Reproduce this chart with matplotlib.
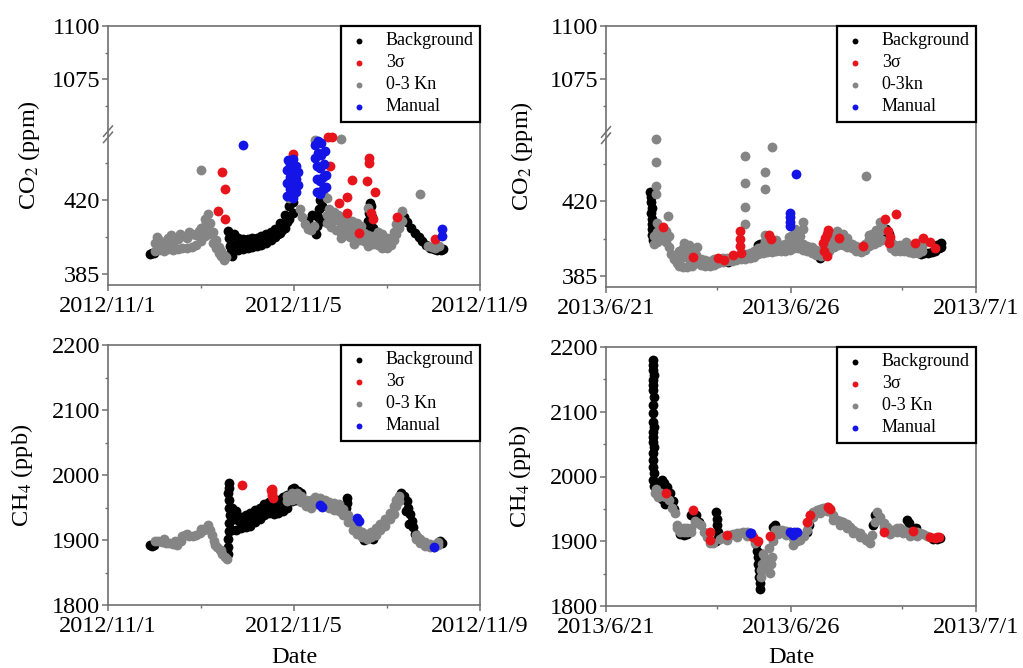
import numpy as np
import matplotlib
matplotlib.use("Agg")
import matplotlib.pyplot as plt

plt.rcParams["font.family"] = ["Liberation Serif", "DejaVu Serif"]
plt.rcParams["mathtext.fontset"] = "stix"

# ---------------- data (days since start date) ----------------
# top left: CO2, 2012/11/1 - 2012/11/9
tl_bg_x = [0.90, 0.95, 0.99,
           2.58, 2.60, 2.62, 2.64, 2.66,
           2.70, 2.80, 2.90, 3.00, 3.10, 3.20, 3.30, 3.40, 3.50, 3.60, 3.70, 3.80, 3.90, 3.98,
           2.70, 2.80, 2.90, 3.00, 3.10, 3.20, 3.30, 3.40, 3.50, 3.60, 3.70, 3.80, 3.90, 3.98,
           2.75, 2.85, 2.95, 3.05, 3.15, 3.25, 3.35, 3.45, 3.55, 3.65, 3.75, 3.85,
           4.30, 4.38,
           4.48, 4.50, 4.52, 4.54, 4.56, 4.58, 4.60, 4.62,
           5.56, 5.58, 5.60, 5.62, 5.64, 5.66, 5.68, 5.70, 5.72,
           6.36, 6.44, 6.52, 6.60, 6.68, 6.76, 6.84, 6.92, 7.00, 7.08, 7.16, 7.21]
tl_bg_y = [394.7, 395.0, 395.3,
           405.5, 402.0, 398.5, 395.5, 393.5,
           404.0, 402.0, 401.5, 401.5, 402.0, 402.0, 403.0, 404.0, 405.0, 406.5, 409.0, 413.0, 417.0, 419.0,
           397.0, 396.5, 397.0, 397.5, 398.0, 398.5, 399.0, 400.0, 401.0, 402.5, 404.5, 407.0, 411.0, 414.0,
           399.5, 399.0, 399.5, 399.5, 400.0, 400.5, 401.0, 402.0, 402.5, 404.0, 406.0, 409.5,
           410.0, 413.0,
           404.0, 408.0, 412.0, 416.0, 420.0, 421.0, 417.0, 410.0,
           402.0, 406.0, 410.0, 414.0, 418.5, 417.0, 412.0, 407.0, 402.0,
           412.0, 409.5, 407.0, 404.5, 402.5, 400.5, 399.0, 397.5, 396.8, 396.5, 396.3, 396.8]

tl_kn_x = [1.00, 1.10, 1.20, 1.30, 1.40, 1.50, 1.60, 1.70, 1.80, 1.90, 2.00, 2.08, 2.14,
           1.00, 1.10, 1.20, 1.30, 1.40, 1.50, 1.60, 1.70, 1.80, 1.90, 2.00, 2.08, 2.14,
           1.05, 1.35, 1.55, 1.75, 1.95, 2.10,
           2.20, 2.26, 2.32, 2.38, 2.44, 2.50, 2.20, 2.26, 2.32, 2.38, 2.44, 2.50, 2.54,
           3.90, 4.12, 4.18, 4.24, 4.30, 4.36, 4.42,
           4.45, 4.62, 4.70,
           4.70, 4.80, 4.90, 5.00, 5.10, 5.20, 5.30, 5.40, 5.50, 5.60, 5.70, 5.80, 5.90, 6.00,
           6.08, 6.14, 6.20, 6.26, 6.32,
           4.70, 4.80, 4.90, 5.00, 5.10, 5.20, 5.30, 5.40, 5.50, 5.60, 5.70, 5.80, 5.90, 6.00,
           6.08, 6.14, 6.20, 6.26, 6.32,
           4.75, 4.85, 4.95, 5.05, 5.15, 5.25, 5.35, 5.45, 5.80, 5.90, 6.00,
           5.00, 5.30, 5.60, 5.90,
           6.88, 6.96, 7.04, 7.12,
           2.00, 6.72, 5.00, 5.60]
tl_kn_y = [400.0, 401.0, 399.0, 402.0, 399.5, 401.5, 403.0, 402.0, 404.0, 403.5, 407.0, 411.0, 413.5,
           396.0, 396.5, 396.0, 397.0, 396.5, 397.0, 397.5, 397.5, 398.0, 399.0, 400.5, 403.0, 407.0,
           402.5, 403.5, 404.0, 405.0, 405.5, 409.0,
           409.0, 405.0, 401.0, 398.0, 396.0, 394.0, 404.0, 400.0, 397.5, 395.0, 393.5, 392.0, 393.0,
           421.0, 416.0, 412.0, 408.5, 406.5, 406.0, 408.0,
           448.5, 423.5, 421.0,
           413.0, 412.0, 410.5, 409.0, 408.0, 407.0, 406.0, 405.0, 404.5, 403.5, 403.0, 402.5, 401.5, 400.0,
           402.0, 405.0, 408.5, 412.0, 415.0,
           409.0, 407.5, 406.0, 404.5, 403.5, 402.5, 401.5, 401.0, 400.5, 399.5, 399.5, 399.0, 398.5, 397.5,
           399.0, 401.0, 404.0, 407.0, 410.0,
           416.0, 414.5, 413.0, 412.0, 411.0, 410.0, 409.0, 408.0, 405.0, 404.0, 402.0,
           402.0, 399.5, 398.5, 397.5,
           398.5, 398.0, 397.5, 398.5,
           434.0, 422.8, 448.9, 416.5]

tl_3s_x = [2.46, 2.51, 2.36, 2.51, 3.98, 4.78, 4.74, 4.82, 5.25, 5.15, 5.15,
           5.56, 5.62, 5.62, 5.74, 4.97, 6.21, 7.03, 5.66, 5.70, 5.40]
tl_3s_y = [433.1, 425.2, 414.7, 411.2, 441.8, 436.2, 449.6, 449.6, 429.5, 421.6, 413.7,
           429.0, 439.7, 437.3, 424.0, 418.4, 411.9, 401.5, 414.0, 411.0, 404.5]

tl_man_x = [3.86, 3.86, 3.86, 3.88, 3.92, 3.92, 3.92, 3.98, 3.98, 3.98, 3.98, 4.04, 4.04, 4.04, 4.08, 4.08,
            4.46, 4.46, 4.50, 4.50, 4.50, 4.52, 4.52, 4.56, 4.56, 4.56, 4.58, 4.58, 4.62, 4.62, 4.64, 4.66,
            4.68, 4.68, 2.91, 7.19, 7.19]
tl_man_y = [422.0, 428.0, 434.0, 439.0, 425.0, 431.0, 437.0, 421.0, 427.0, 433.0, 439.5, 424.0, 430.0, 436.0,
            427.0, 433.0,
            440.0, 446.0, 424.0, 430.0, 436.0, 442.0, 448.0, 423.0, 429.0, 435.0, 441.0, 447.0, 425.0, 431.0,
            437.0, 443.0, 426.0, 432.0, 445.8, 406.6, 403.0]

# top right: CO2, 2013/6/21 - 2013/7/1
tr_bg_x = [1.20, 1.22, 1.21, 1.23, 1.22, 1.24, 1.23, 1.25, 1.24, 1.26,
           1.32, 1.40, 1.50, 1.58,
           2.30, 2.42, 2.54, 2.66, 2.78, 2.90, 3.30, 3.45,
           4.10, 4.16, 4.22, 5.39, 5.70, 5.78, 7.50, 7.58, 7.64,
           8.50, 8.60, 8.70, 8.80, 8.90, 9.00, 9.06, 8.95, 9.05]
tr_bg_y = [424.3, 422.0, 419.5, 417.0, 414.5, 412.0, 409.5, 407.0, 404.5, 402.0,
           401.0, 402.0, 405.0, 406.5,
           391.0, 392.5, 392.0, 391.0, 390.5, 391.0, 391.5, 393.0,
           399.5, 400.0, 399.0, 398.5, 395.0, 393.5, 405.0, 407.0, 405.0,
           395.5, 396.0, 396.0, 396.5, 397.0, 398.0, 398.5, 399.5, 400.5]

tr_kn_x = [1.35, 1.35, 1.36, 1.36, 1.37, 1.68,
           1.30, 1.38, 1.46, 1.54, 1.62, 1.70, 1.30, 1.38, 1.46, 1.54, 1.62, 1.70,
           1.76, 1.84, 1.92,
           1.96, 2.08, 2.20, 2.32, 2.44, 2.56, 2.68, 2.80, 2.92, 3.04, 3.16, 3.28, 3.40, 3.52, 3.64, 3.76,
           3.88, 4.00, 4.12, 4.24, 4.36, 4.48, 4.60, 4.72, 4.84, 4.96, 5.08, 5.20, 5.32, 5.44, 5.56, 5.68,
           5.80, 5.92, 6.04, 6.16, 6.28, 6.40, 6.52, 6.64, 6.76, 6.88, 7.00, 7.12, 7.24, 7.36, 7.46, 7.70,
           7.82, 7.94, 8.06, 8.18, 8.30, 8.42, 8.54,
           1.96, 2.08, 2.20, 2.32, 2.44, 2.56, 2.68, 2.80, 2.92, 3.04, 3.16, 3.28, 3.40, 3.52, 3.64, 3.76,
           3.88, 4.00, 4.12, 4.24, 4.36, 4.48, 4.60, 4.72, 4.84, 4.96, 5.08, 5.20, 5.32, 5.44, 5.56, 5.68,
           5.80, 5.92, 6.04, 6.16, 6.28, 6.40, 6.52, 6.64, 6.76, 6.88, 7.00, 7.12, 7.24, 7.36, 7.46, 7.70,
           7.82, 7.94, 8.06, 8.18, 8.30, 8.42, 8.54,
           2.02, 2.14, 2.26, 2.38, 2.50, 2.62, 2.74, 2.86, 2.98,
           2.10, 2.25, 2.45, 4.30, 4.60, 4.95, 5.10, 5.25, 6.10, 6.25, 6.40, 7.10, 7.30, 7.45, 7.40,
           8.10, 8.40, 8.60,
           3.76, 3.76, 3.76, 3.76, 4.30, 4.30, 4.49, 7.04, 5.11, 5.33, 5.33, 4.30, 5.00, 6.50, 7.20]
tr_kn_y = [449.3, 438.6, 427.3, 423.3, 410.0, 413.0,
           404.0, 405.5, 406.5, 407.0, 406.0, 404.0, 400.0, 401.0, 402.0, 403.0, 401.0, 398.5,
           395.5, 393.0, 391.0,
           397.0, 398.0, 396.0, 397.5, 395.0, 393.0, 392.5, 392.0, 393.0, 393.0, 393.5, 393.5, 394.0, 394.0,
           395.0, 395.5, 396.0, 397.0, 398.0, 399.0, 399.5, 399.0, 399.5, 399.5, 400.0, 401.0, 402.5, 401.5,
           400.0, 399.0, 398.5, 397.5, 397.0, 398.0, 401.0, 402.5, 403.0, 402.0, 401.0, 400.0, 399.0, 398.5,
           400.0, 402.5, 403.5, 405.0, 406.5, 401.0, 399.5, 399.5, 399.0, 399.0, 398.5, 398.0, 399.0,
           390.0, 389.5, 389.5, 390.0, 391.0, 390.5, 390.0, 390.0, 390.5, 391.0, 391.5, 392.0, 392.0, 392.5,
           393.0, 393.0, 393.5, 394.0, 395.5, 396.0, 396.5, 396.5, 397.0, 397.0, 397.0, 397.5, 398.0, 398.0,
           397.5, 397.0, 396.0, 395.0, 394.5, 395.0, 397.0, 398.5, 399.5, 399.5, 398.5, 398.0, 397.0, 396.5,
           397.5, 399.0, 400.0, 401.0, 402.0, 398.0, 397.0, 397.0, 397.0, 396.5, 396.0, 396.0, 397.0,
           393.5, 394.0, 392.5, 393.5, 393.0, 392.0, 391.5, 391.0, 391.5,
           400.5, 399.5, 398.5, 401.5, 402.0, 403.5, 405.0, 404.0, 405.0, 406.0, 405.0, 404.5, 406.5, 408.5,
           410.5, 401.0, 400.5, 401.0,
           441.4, 428.8, 417.4, 409.5, 433.7, 425.8, 445.4, 431.7, 407.3, 410.4, 407.0, 404.5, 404.0, 403.0,
           405.0]

tr_3s_x = [1.55, 2.36, 3.04, 3.20, 3.44, 3.62, 3.62, 3.62, 3.64, 4.40, 4.45, 5.87, 5.90, 5.92,
           5.96, 6.01, 5.98, 6.30, 6.95, 7.54, 7.84, 7.68, 7.66, 7.62, 8.35, 8.57, 8.90, 8.75]
tr_3s_y = [408.0, 394.0, 393.5, 392.5, 395.0, 406.0, 402.5, 399.0, 396.0, 404.5, 402.5, 400.5, 397.0,
           403.0, 405.0, 406.6, 394.5, 402.8, 399.0, 412.0, 413.9, 403.6, 400.5, 406.0, 400.5, 402.9,
           398.0, 401.0]

tr_man_x = [5.13, 4.97, 4.97, 4.97, 4.97]
tr_man_y = [432.8, 414.5, 412.5, 410.5, 408.5]

# bottom left: CH4, 2012/11/1 - 2012/11/9
bl_bg_x = [0.91, 0.95, 0.99,
           2.57, 2.58, 2.59, 2.60, 2.61, 2.62, 2.61, 2.60, 2.59, 2.60, 2.61,
           2.66, 2.76, 2.86, 2.96, 3.06, 3.16, 3.26, 3.36, 3.46, 3.56, 3.66, 3.76, 3.86, 3.96, 4.04,
           2.66, 2.76, 2.86, 2.96, 3.06, 3.16, 3.26, 3.36, 3.46, 3.56, 3.66, 3.76, 3.86, 3.96, 4.04,
           2.71, 2.81, 2.91, 3.01, 3.11, 3.21, 3.31, 3.41, 3.51, 3.61, 3.71, 3.81, 3.91,
           4.00, 4.08, 4.16,
           5.10, 5.12, 5.13, 5.14,
           5.50, 5.60, 5.70,
           6.30, 6.36, 6.42, 6.46, 6.50, 6.53, 6.56, 6.60, 6.66, 6.40, 6.48,
           7.14, 7.18]
bl_bg_y = [1892.0, 1891.0, 1893.0,
           1878.0, 1890.0, 1902.0, 1914.0, 1926.0, 1938.0, 1950.0, 1962.0, 1972.0, 1980.0, 1987.0,
           1950.0, 1945.0, 1935.0, 1938.0, 1942.0, 1946.0, 1950.0, 1955.0, 1958.0, 1960.0, 1962.0, 1966.0,
           1970.0, 1978.0, 1976.0,
           1915.0, 1915.0, 1918.0, 1920.0, 1922.0, 1928.0, 1933.0, 1938.0, 1942.0, 1940.0, 1942.0, 1945.0,
           1950.0, 1960.0, 1962.0,
           1932.0, 1930.0, 1927.0, 1930.0, 1932.0, 1937.0, 1942.0, 1947.0, 1950.0, 1951.0, 1952.0, 1957.0,
           1962.0,
           1980.0, 1975.0, 1972.0,
           1941.0, 1949.0, 1957.0, 1965.0,
           1900.0, 1903.0, 1902.0,
           1972.0, 1968.0, 1960.0, 1950.0, 1940.0, 1930.0, 1920.0, 1910.0, 1903.0, 1945.0, 1925.0,
           1898.0, 1896.0]

bl_kn_x = [1.00, 1.08, 1.16, 1.24, 1.32, 1.40, 1.48, 1.56, 1.60, 1.66, 1.74, 1.82, 1.90, 1.98, 2.06,
           2.12, 2.16, 2.20, 2.24, 2.28, 2.34, 2.40, 2.46, 2.52, 2.56,
           1.20, 1.44, 1.70, 2.00, 2.30, 2.44,
           3.86, 3.96, 4.06, 4.16, 4.26, 4.36, 4.46, 4.56, 4.66, 4.76, 4.86, 4.96, 5.06, 5.16, 5.26, 5.36,
           5.46, 5.56, 5.66, 5.76, 5.86, 5.96, 6.06, 6.14, 6.20, 6.26, 6.62, 6.72, 6.82, 6.92, 7.02, 7.10,
           3.86, 3.96, 4.06, 4.16, 4.26, 4.36, 4.46, 4.56, 4.66, 4.76, 4.86, 4.96, 5.06, 5.16, 5.26, 5.36,
           5.46, 5.56, 5.66, 5.76, 5.86, 5.96, 6.06, 6.14, 6.20, 6.26, 6.62, 6.72, 6.82, 6.92, 7.02, 7.10]
bl_kn_y = [1898.0, 1899.0, 1897.0, 1896.0, 1895.0, 1894.0, 1893.0, 1899.0, 1906.0, 1907.0, 1906.0,
           1906.0, 1908.0, 1911.0, 1915.0, 1920.0, 1923.0, 1916.0, 1908.0, 1898.0, 1890.0, 1884.0, 1879.0,
           1874.0, 1871.0,
           1901.0, 1898.0, 1910.0, 1917.0, 1893.0, 1885.0,
           1968.0, 1972.0, 1972.0, 1968.0, 1962.0, 1962.0, 1966.0, 1965.0, 1961.0, 1959.0, 1957.0, 1955.0,
           1948.0, 1938.0, 1926.0, 1918.0, 1913.0, 1910.0, 1912.0, 1918.0, 1925.0, 1932.0, 1942.0, 1952.0,
           1962.0, 1967.0, 1908.0, 1902.0, 1897.0, 1894.0, 1893.0, 1897.0,
           1960.0, 1962.0, 1963.0, 1958.0, 1952.0, 1950.0, 1955.0, 1955.0, 1952.0, 1950.0, 1946.0, 1944.0,
           1938.0, 1928.0, 1916.0, 1910.0, 1905.0, 1902.0, 1904.0, 1908.0, 1915.0, 1922.0, 1932.0, 1940.0,
           1952.0, 1960.0, 1902.0, 1895.0, 1891.0, 1890.0, 1890.0, 1893.0]

bl_3s_x = [2.89, 3.52, 3.52, 3.52, 3.52, 3.54, 3.50]
bl_3s_y = [1984.6, 1979.0, 1975.0, 1971.0, 1967.0, 1964.0, 1977.0]

bl_man_x = [4.56, 4.60, 5.35, 5.40, 7.00]
bl_man_y = [1953.8, 1951.0, 1933.3, 1930.0, 1890.0]

# bottom right: CH4, 2013/6/21 - 2013/7/1
br_bg_x = [1.28, 1.27, 1.28, 1.29, 1.28, 1.27, 1.28, 1.29, 1.28, 1.27, 1.28, 1.29, 1.28, 1.27, 1.28,
           1.29, 1.28, 1.27, 1.28, 1.29, 1.28, 1.30,
           1.40, 1.50, 1.58, 1.66, 1.74, 1.80, 1.84, 1.50, 1.60,
           2.30, 2.36, 2.42, 2.50, 2.00, 2.10, 2.20,
           2.98, 3.00, 3.00, 3.02, 3.02, 2.96,
           4.06, 4.08, 4.10, 4.12, 4.13, 4.14, 4.15, 4.16, 4.20, 4.22,
           4.52, 4.56, 5.42, 5.48, 7.22, 7.28, 8.13, 8.20, 8.38,
           8.85, 8.95, 9.02]
br_bg_y = [2179.9, 2172.2, 2164.5, 2156.8, 2149.0, 2141.3, 2133.6, 2123.3, 2110.4, 2097.6, 2084.7,
           2076.9, 2069.2, 2061.5, 2053.8, 2046.0, 2035.8, 2025.0, 2015.0, 2005.0, 1995.0, 1985.0,
           1985.0, 1994.0, 1990.0, 1984.0, 1975.0, 1962.0, 1950.0, 1965.0, 1958.0,
           1940.0, 1944.0, 1940.0, 1930.0, 1911.0, 1910.0, 1911.0,
           1945.0, 1935.0, 1925.0, 1915.0, 1905.0, 1900.0,
           1895.0, 1885.0, 1875.0, 1865.0, 1855.0, 1845.0, 1835.0, 1827.0, 1870.0, 1880.0,
           1922.5, 1925.0, 1915.0, 1925.0, 1925.0, 1940.0, 1932.8, 1928.0, 1920.0,
           1904.0, 1903.0, 1905.0]

br_kn_x = [1.33, 1.36, 1.40, 1.46, 1.54, 1.62, 1.70, 1.78, 1.86, 1.92, 1.92,
           2.00, 2.10, 2.20, 2.30, 2.00, 2.10, 2.20, 2.30,
           2.40, 2.48, 2.56, 2.64, 2.72, 2.80, 2.88, 3.08, 3.17, 3.26, 3.35, 3.44, 3.53, 3.62, 3.71, 3.80,
           3.89, 3.98, 4.04,
           4.18, 4.20, 4.22, 4.25, 4.30, 4.34, 4.38, 4.43, 4.48, 4.45, 4.40, 4.50,
           4.56, 4.66, 4.76, 4.86, 4.96, 5.06, 5.06, 5.16, 5.24, 5.34, 5.42, 5.46, 5.51, 5.60, 5.69, 5.78,
           5.87, 5.96, 6.05, 6.14, 6.23, 6.32, 6.41, 6.50, 6.59, 6.68, 6.77, 6.86, 6.95, 7.04, 7.13, 7.20,
           7.26, 7.32, 7.40, 7.50, 7.59, 7.68, 7.77, 7.86, 7.95, 8.04, 8.13, 8.22, 8.31, 8.40, 8.49, 8.58,
           8.67,
           5.60, 5.78, 5.96, 6.14, 6.32, 6.50, 6.68, 6.86, 7.50, 7.68, 7.86, 8.04, 8.22, 8.40, 3.26, 3.53,
           3.80, 4.66, 4.86]
br_kn_y = [1974.0, 1980.0, 1968.0, 1975.0, 1970.0, 1968.0, 1963.0, 1952.0, 1943.0, 1925.0, 1920.0,
           1920.0, 1920.0, 1920.0, 1921.0, 1914.0, 1914.0, 1914.0, 1915.0,
           1932.0, 1928.0, 1925.0, 1915.0, 1907.0, 1898.0, 1898.0, 1903.0, 1907.0, 1908.0, 1909.7, 1911.0,
           1912.0, 1913.0, 1914.8, 1914.0, 1913.0, 1907.0, 1898.0,
           1845.0, 1855.0, 1865.0, 1881.0, 1872.0, 1860.7, 1855.0, 1850.5, 1876.0, 1865.0, 1890.0, 1900.0,
           1918.0, 1917.0, 1917.0, 1916.0, 1915.0, 1894.2, 1905.0, 1900.0, 1902.0, 1908.0, 1917.0, 1928.0,
           1940.5, 1945.0, 1948.0, 1950.0, 1952.0, 1953.0, 1948.0, 1940.0, 1933.0, 1931.0, 1930.0, 1926.0,
           1922.5, 1918.0, 1915.0, 1912.0, 1907.0, 1902.0, 1897.0, 1910.0, 1930.0, 1945.0, 1937.0, 1928.0,
           1922.0, 1917.0, 1918.0, 1920.0, 1920.0, 1918.0, 1915.0, 1914.0, 1913.0, 1914.0, 1912.0, 1911.0,
           1908.0,
           1938.0, 1943.0, 1946.0, 1933.0, 1925.0, 1920.0, 1912.0, 1906.0, 1922.0, 1911.0, 1914.0, 1912.0,
           1908.0, 1908.0, 1902.0, 1906.0, 1908.0, 1911.0, 1910.0]

br_3s_x = [2.36, 2.81, 3.26, 3.98, 4.10, 5.42, 5.51, 6.01, 6.05, 7.50, 8.30, 8.75, 8.90, 8.95, 9.00,
           1.62, 2.82, 4.42]
br_3s_y = [1948.0, 1902.0, 1909.7, 1907.0, 1900.0, 1930.2, 1940.5, 1953.4, 1950.0, 1914.8, 1916.0,
           1907.0, 1904.5, 1907.0, 1906.0, 1975.0, 1915.0, 1908.0]

br_man_x = [3.89, 3.92, 4.97, 5.03, 5.09, 5.15, 5.06]
br_man_y = [1913.0, 1912.0, 1914.8, 1913.0, 1915.0, 1914.0, 1910.0]

labels_tl = ["Background", "3σ", "0-3 Kn", "Manual"]
labels_tr = ["Background", "3σ", "0-3kn", "Manual"]

C_BG, C_3S, C_KN, C_MAN = "#000000", "#e8141c", "#858585", "#1414e6"
SPINE = "#707070"
MS = 50


def co2_fwd(v):
    v = np.asarray(v, dtype=float)
    return np.where(v <= 750, v - 380, v - 1050 + 72)


def co2_inv(u):
    u = np.asarray(u, dtype=float)
    return np.where(u <= 71, u + 380, u - 72 + 1050)


fig = plt.figure(figsize=(10.23, 6.68), dpi=100)
W, H = 1023, 668


def add_ax(x0, x1, y0, y1):
    return fig.add_axes([x0 / W, (H - y1) / H, (x1 - x0) / W, (y1 - y0) / H])


ax_tl = add_ax(108, 480, 26, 285)
ax_tr = add_ax(606, 976, 26, 287)
ax_bl = add_ax(108, 480, 345, 605)
ax_br = add_ax(606, 976, 347, 606)


def draw(ax, bg, s3, kn, man, labels):
    h1 = ax.scatter(bg[0], bg[1], s=MS, c=C_BG, linewidths=0, zorder=2)
    h3 = ax.scatter(kn[0], kn[1], s=MS, c=C_KN, linewidths=0, zorder=3)
    h2 = ax.scatter(s3[0], s3[1], s=MS, c=C_3S, linewidths=0, zorder=4)
    h4 = ax.scatter(man[0], man[1], s=MS, c=C_MAN, linewidths=0, zorder=5)
    leg = ax.legend([h1, h2, h3, h4], labels, loc="upper right", bbox_to_anchor=(1.0, 1.0),
                    borderaxespad=0, fontsize=13, markerscale=0.6, fancybox=False,
                    framealpha=1, edgecolor="black", handlelength=1.2, handletextpad=0.9,
                    labelspacing=0.28, borderpad=0.35)
    leg.get_frame().set_linewidth(1.6)
    leg.set_zorder(10)


def style(ax, xmax, majors, majlabels, minors):
    ax.set_xlim(0, xmax)
    ax.set_xticks(majors)
    ax.set_xticklabels(majlabels)
    ax.set_xticks(minors, minor=True)
    for sp in ax.spines.values():
        sp.set_color(SPINE)
        sp.set_linewidth(1.2)
    ax.tick_params(which="both", direction="out", colors=SPINE, labelcolor="black",
                   top=False, right=False)
    ax.tick_params(which="major", length=4, width=1.1, labelsize=17.5)
    ax.tick_params(which="minor", length=2.5, width=1.0)
    ax.tick_params(axis="x", pad=4)
    ax.tick_params(axis="y", pad=1.5)


draw(ax_tl, (tl_bg_x, tl_bg_y), (tl_3s_x, tl_3s_y), (tl_kn_x, tl_kn_y), (tl_man_x, tl_man_y), labels_tl)
draw(ax_tr, (tr_bg_x, tr_bg_y), (tr_3s_x, tr_3s_y), (tr_kn_x, tr_kn_y), (tr_man_x, tr_man_y), labels_tr)
draw(ax_bl, (bl_bg_x, bl_bg_y), (bl_3s_x, bl_3s_y), (bl_kn_x, bl_kn_y), (bl_man_x, bl_man_y), labels_tl)
draw(ax_br, (br_bg_x, br_bg_y), (br_3s_x, br_3s_y), (br_kn_x, br_kn_y), (br_man_x, br_man_y), labels_tl)

lab_2012 = ["2012/11/1", "2012/11/5", "2012/11/9"]
lab_2013 = ["2013/6/21", "2013/6/26", "2013/7/1"]

for ax in (ax_tl, ax_tr):
    ax.set_yscale("function", functions=(co2_fwd, co2_inv))
    ax.set_ylim(380, 1100)
    ax.set_yticks([385, 420, 1075, 1100])
    ax.set_yticks([402.5, 437.5, 1062.5, 1087.5], minor=True)
    ax.set_ylabel("CO$_2$ (ppm)", fontsize=17.5)
    # axis break marks on the left spine
    yb = 71 / 122
    for dy in (-0.012, 0.012):
        ax.plot([-0.012, 0.012], [yb + dy - 0.02, yb + dy + 0.02], transform=ax.transAxes,
                color=SPINE, lw=1.1, clip_on=False, zorder=11)

for ax in (ax_bl, ax_br):
    ax.set_ylim(1800, 2200)
    ax.set_yticks([1800, 1900, 2000, 2100, 2200])
    ax.set_yticks([1850, 1950, 2050, 2150], minor=True)
    ax.set_ylabel("CH$_4$ (ppb)", fontsize=17.5)
    ax.set_xlabel("Date", fontsize=17.5)
    ax.xaxis.set_label_coords(0.5, -0.16)

style(ax_tl, 8, [0, 4, 8], lab_2012, [2, 6])
style(ax_bl, 8, [0, 4, 8], lab_2012, [2, 6])
style(ax_tr, 10, [0, 5, 10], lab_2013, [3, 8])
style(ax_br, 10, [0, 5, 10], lab_2013, [3, 8])

ax_tl.yaxis.set_label_coords(-0.177, 0.5)
ax_tr.yaxis.set_label_coords(-0.192, 0.5)
ax_bl.yaxis.set_label_coords(-0.196, 0.5)
ax_br.yaxis.set_label_coords(-0.197, 0.5)

fig.savefig("out.png", dpi=100)
